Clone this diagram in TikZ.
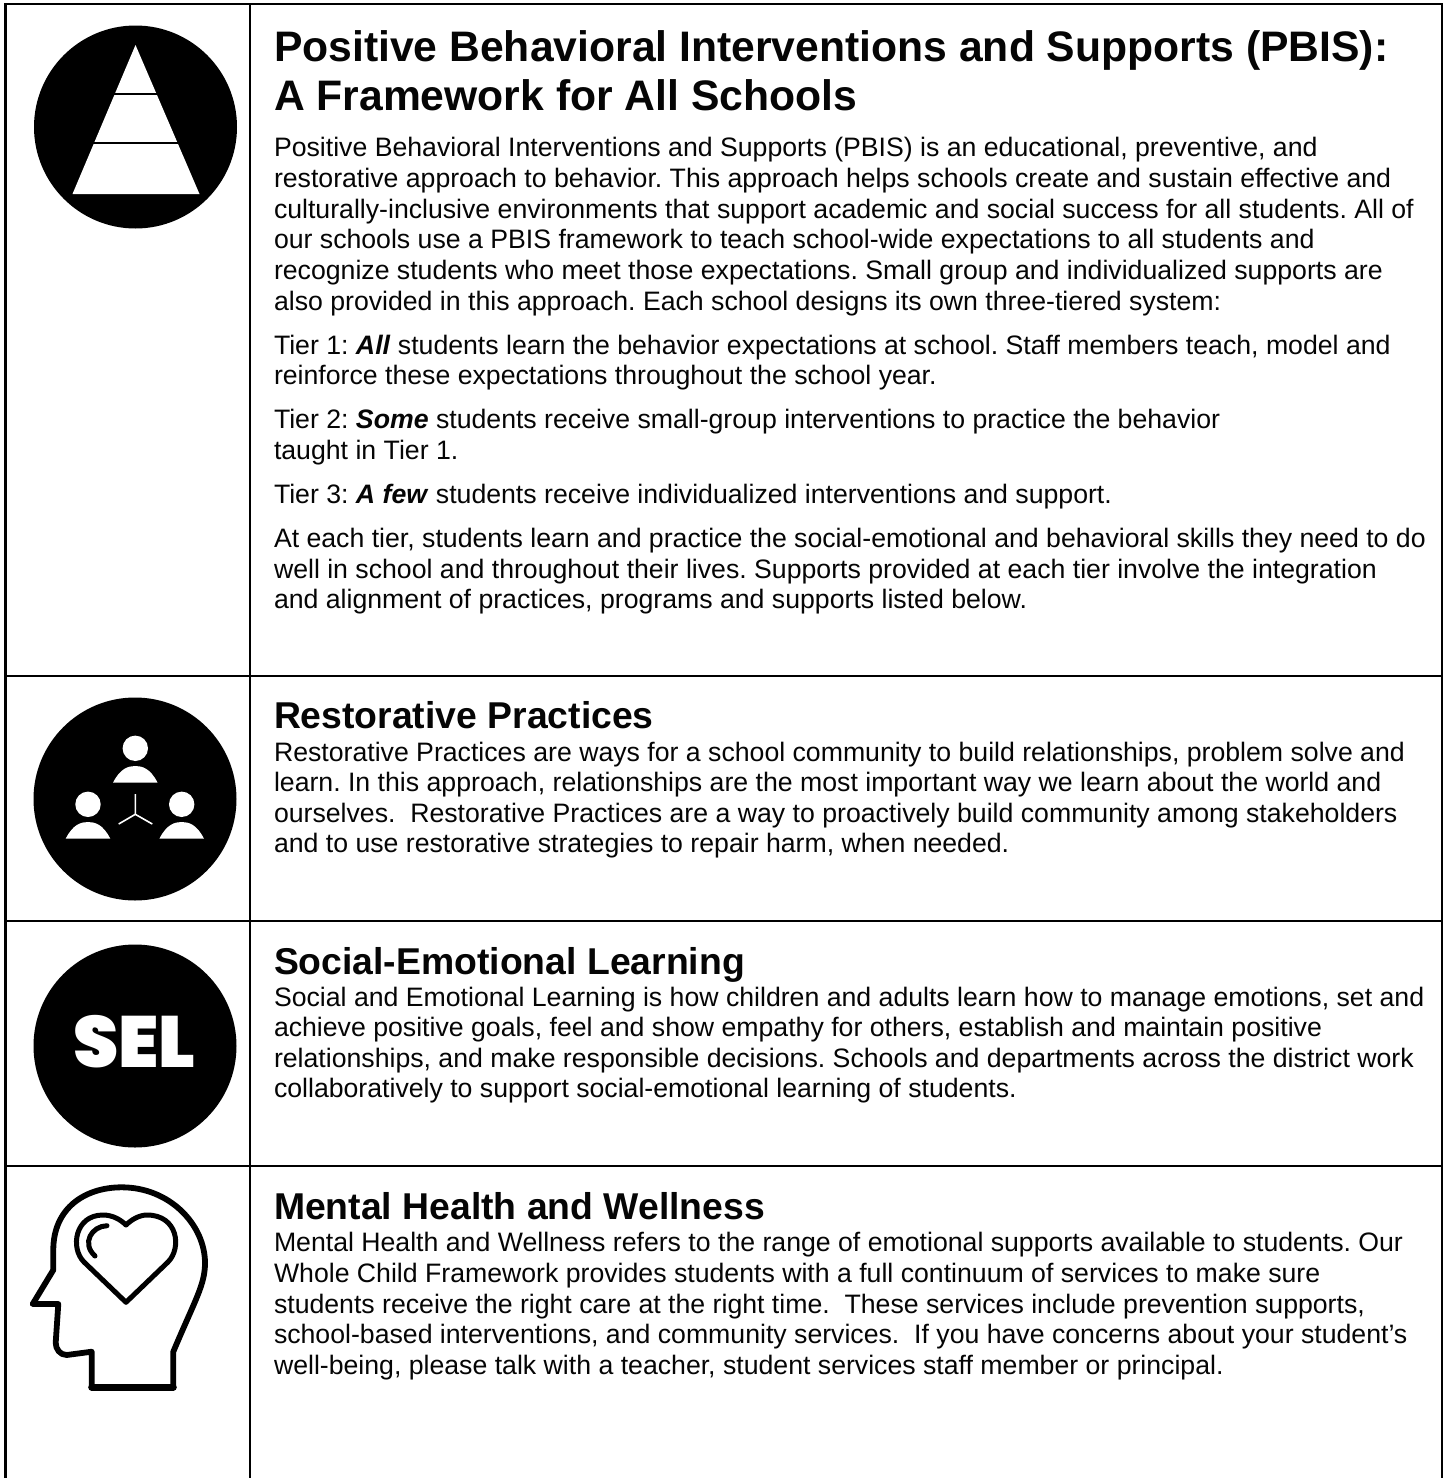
\documentclass[tikz,border=0pt]{standalone}
\usepackage{fontspec}
\setmainfont{Liberation Sans}
\newfontfamily\selfont{Poppins Black}
\definecolor{ink}{HTML}{050505}
\newcommand{\bodysize}{\fontsize{26.667}{30.67}\selectfont\frenchspacing}
\newcommand{\headsize}{\fontsize{37.333}{42}\selectfont}
\newcommand{\titlesize}{\fontsize{42.667}{49}\selectfont}
\tikzset{
  x=1pt,y=-1pt,
  rule/.style={line width=2.5pt,black},
  disc/.style={fill=black,draw=none},
  cut/.style={fill=white,draw=none},
  bodyline/.style={anchor=base west,inner sep=0pt,outer sep=0pt,text=ink,font=\bodysize},
  headline/.style={anchor=base west,inner sep=0pt,outer sep=0pt,text=ink,font=\headsize\bfseries},
  titleline/.style={anchor=base west,inner sep=0pt,outer sep=0pt,text=ink,font=\titlesize\bfseries},
  headstroke/.style={draw=black,line width=5.8pt,line join=round,line cap=round},
}
\begin{document}
\begin{tikzpicture}
\useasboundingbox (0,0) rectangle (1447,1478);
\fill[white] (0,0) rectangle (1447,1478);
% table rules
\draw[rule] (5.5,1478) -- (5.5,4) -- (1442,4) -- (1442,1478);
\draw[rule,line width=2pt] (250,4) -- (250,1478);
\draw[rule] (5.5,676) -- (1442,676);
\draw[rule] (5.5,921) -- (1442,921);
\draw[rule] (5.5,1166) -- (1442,1166);
% pyramid
\fill[disc] (135.5,127) circle (101.5);
\fill[cut] (135.5,45) -- (199.5,194) -- (72.5,194) -- cycle;
\draw[line width=2pt] (113,94) -- (158,94);
\draw[line width=2pt] (93,142.5) -- (178,142.5);
% people
\fill[disc] (135,799) circle (101.5);
\foreach \cx/\cy in {135.3/748.3,88/804.3,181.7/804.3}{
  \fill[cut] (\cx,\cy) circle (12.7);
  \fill[cut] ([shift={(-22.3,34.4)}]\cx,\cy) .. controls ([shift={(-15,20)}]\cx,\cy) and ([shift={(-7,17.7)}]\cx,\cy) .. ([shift={(0,17.7)}]\cx,\cy)
     .. controls ([shift={(7,17.7)}]\cx,\cy) and ([shift={(15,20)}]\cx,\cy) .. ([shift={(22.3,34.4)}]\cx,\cy) -- cycle;
}
\draw[white,line width=1.6pt] (135.3,794) -- (135.3,814.3) -- (118.7,824);
\draw[white,line width=1.6pt] (135.3,814.3) -- (152.3,824);
% SEL
\fill[disc] (135,1046) circle (101.5);
\node[inner sep=0pt,text=white,font=\selfont\fontsize{72.5}{72}\selectfont] (sel) at (134.5,1041.5) {SEL};
% head
\draw[headstroke] (91.7,1387.3) -- (91.7,1351.7) -- (66.7,1355)
  .. controls (60,1355) and (55.7,1349) .. (55.7,1342.7)
  -- (58.3,1304) -- (32.7,1304) -- (53.3,1270) -- (53.3,1250)
  .. controls (53.3,1208) and (85,1187.3) .. (121.7,1187.3)
  .. controls (170,1187.3) and (205,1225) .. (205,1263)
  .. controls (205,1285) and (195,1300) .. (173.3,1351.7)
  -- (173.3,1387.3) -- cycle;
\draw[line width=7pt,line cap=round] (91.7,1387) -- (173.3,1387);
\draw[line width=5pt,line join=round,line cap=round] (126,1302.3)
  -- (84,1262)
  .. controls (70,1248) and (75,1215) .. (103,1215)
  .. controls (113,1215) and (121,1220) .. (126,1225)
  .. controls (131,1220) and (139,1215) .. (147,1215)
  .. controls (178,1215) and (182,1248) .. (168,1262)
  -- cycle;
\draw[line width=5pt,line cap=round] (107,1225.7) .. controls (92,1226) and (81,1243) .. (95,1256);
% text
\node[titleline] (t1) at (274,61) {Positive Behavioral Interventions and Supports (PBIS):};
\node[titleline] (t2) at (274,110) {A Framework for All Schools};
\node[bodyline] (b1) at (274,156.7) {Positive Behavioral Interventions and Supports (PBIS) is an educational, preventive, and};
\node[bodyline] (b2) at (274,187.3) {restorative approach to behavior. This approach helps schools create and sustain effective and};
\node[bodyline] (b3) at (274,218) {culturally-inclusive environments that support academic and social success for all students. All of};
\node[bodyline] (b4) at (274,248.7) {our schools use a PBIS framework to teach school-wide expectations to all students and};
\node[bodyline] (b5) at (274,279.3) {recognize students who meet those expectations. Small group and individualized supports are};
\node[bodyline] (b6) at (274,310) {also provided in this approach. Each school designs its own three-tiered system:};
\node[bodyline] (b7) at (274,354) {Tier 1: \textbf{\itshape All} students learn the behavior expectations at school. Staff members teach, model and};
\node[bodyline] (b8) at (274,384.7) {reinforce these expectations throughout the school year.};
\node[bodyline] (b9) at (274,428.3) {Tier 2: \textbf{\itshape Some} students receive small-group interventions to practice the behavior};
\node[bodyline] (b10) at (274,459.3) {taught in Tier 1.};
\node[bodyline] (b11) at (274,503.3) {Tier 3: \textbf{\itshape A few} students receive individualized interventions and support.};
\node[bodyline] (b12) at (274,547.3) {At each tier, students learn and practice the social-emotional and behavioral skills they need to do};
\node[bodyline] (b13) at (274,578) {well in school and throughout their lives. Supports provided at each tier involve the integration};
\node[bodyline] (b14) at (274,608.7) {and alignment of practices, programs and supports listed below.};
\node[headline] (h2) at (274,728.3) {Restorative Practices};
\node[bodyline] (r1) at (274,761) {Restorative Practices are ways for a school community to build relationships, problem solve and};
\node[bodyline] (r2) at (274,791.7) {learn. In this approach, relationships are the most important way we learn about the world and};
\node[bodyline] (r3) at (274,822.3) {ourselves.\ \ Restorative Practices are a way to proactively build community among stakeholders};
\node[bodyline] (r4) at (274,852.7) {and to use restorative strategies to repair harm, when needed.};
\node[headline] (h3) at (274,974) {Social-Emotional Learning};
\node[bodyline] (s1) at (274,1006) {Social and Emotional Learning is how children and adults learn how to manage emotions, set and};
\node[bodyline] (s2) at (274,1036.7) {achieve positive goals, feel and show empathy for others, establish and maintain positive};
\node[bodyline] (s3) at (274,1067.3) {relationships, and make responsible decisions. Schools and departments across the district work};
\node[bodyline] (s4) at (274,1097.7) {collaboratively to support social-emotional learning of students.};
\node[headline] (h4) at (274,1219.3) {Mental Health and Wellness};
\node[bodyline] (m1) at (274,1251.7) {Mental Health and Wellness refers to the range of emotional supports available to students. Our};
\node[bodyline] (m2) at (274,1282.4) {Whole Child Framework provides students with a full continuum of services to make sure};
\node[bodyline] (m3) at (274,1313) {students receive the right care at the right time.\ \ These services include prevention supports,};
\node[bodyline] (m4) at (274,1343.7) {school-based interventions, and community services.\ \ If you have concerns about your student’s};
\node[bodyline] (m5) at (274,1374.4) {well-being, please talk with a teacher, student services staff member or principal.};
\end{tikzpicture}
\end{document}
